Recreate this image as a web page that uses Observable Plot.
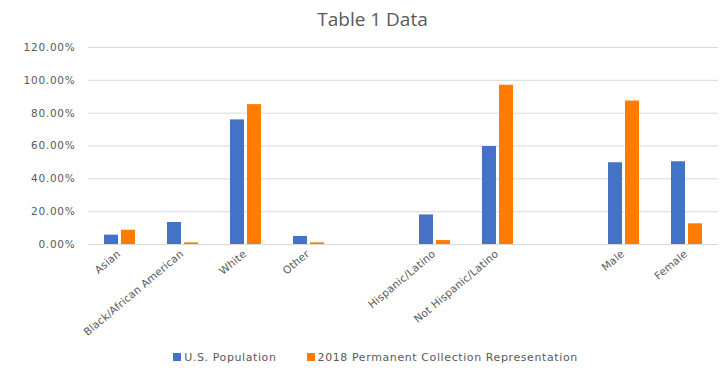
<!DOCTYPE html>
<html>
<head>
<meta charset="utf-8">
<script src="https://cdn.jsdelivr.net/npm/d3@7"></script>
<script src="https://cdn.jsdelivr.net/npm/@observablehq/plot@0.6"></script>
<style>
  body { margin: 0; background: #fff; font-family: "DejaVu Sans", sans-serif; color: #595959; }
  #title { height: 36px; line-height: 38px; text-align: center; padding-left: 24px; font-family: "Open Sans", sans-serif; font-size: 19px; }
  #legend { height: 30px; display: flex; justify-content: center; align-items: center; font-size: 11px; letter-spacing: 0.6px; gap: 30px; padding-left: 30px; }
  #legend span.sw { display: inline-block; width: 8px; height: 8px; margin-right: 3px; vertical-align: middle; position: relative; top: -1px; }
  svg { display: block; }
  svg g[aria-label="y-axis tick label"] text { letter-spacing: 0.75px; }
  svg g[aria-label="fx-axis tick label"] text { letter-spacing: 0.2px; }
</style>
</head>
<body>
<div id="title">Table 1 Data</div>
<div id="chart"></div>
<div id="legend"></div>
<script>
const categories = ["Asian", "Black/African American", "White", "Other", " ", "Hispanic/Latino", "Not Hispanic/Latino", "  ", "Male", "Female"];
const usPopulation = [0.057, 0.134, 0.759, 0.049, null, 0.180, 0.597, null, 0.498, 0.504];
const collection = [0.087, 0.010, 0.852, 0.010, null, 0.024, 0.970, null, 0.874, 0.126];
const series = ["U.S. Population", "2018 Permanent Collection Representation"];
const colors = ["#4472C4", "#FF7C00"];
const yTicks = [0, 0.2, 0.4, 0.6, 0.8, 1.0, 1.2];

const rows = [];
categories.forEach((c, i) => {
  rows.push({category: c, series: series[0], value: usPopulation[i]});
  rows.push({category: c, series: series[1], value: collection[i]});
});

const chart = Plot.plot({
  width: 721,
  height: 306,
  marginLeft: 85,
  marginRight: 1,
  marginTop: 11,
  marginBottom: 98,
  style: {color: "#595959", fontFamily: "DejaVu Sans, sans-serif", fontSize: "10.5px", background: "white"},
  fx: {domain: categories, padding: 0, label: null},
  x: {domain: series, paddingInner: 1/6, paddingOuter: 0.85, axis: null},
  y: {domain: [0, 1.2], label: null},
  color: {domain: series, range: colors},
  marks: [
    Plot.gridY(yTicks, {stroke: "#d9d9d9", strokeOpacity: 1, strokeWidth: 1}),
    Plot.barY(rows, {fx: "category", x: "series", y: "value", fill: "series"}),
    Plot.axisY(yTicks, {tickSize: 0, tickPadding: 13, fontSize: 10.5, tickFormat: d => (d * 100).toFixed(2) + "%", label: null}),
    Plot.axisFx({anchor: "bottom", tickRotate: -40, tickSize: 0, tickPadding: 8, dx: -1, fontSize: 10.5, label: null})
  ]
});
document.getElementById("chart").appendChild(chart);

const legend = document.getElementById("legend");
series.forEach((s, i) => {
  const item = document.createElement("div");
  item.innerHTML = `<span class="sw" style="background:${colors[i]}"></span>${s}`;
  legend.appendChild(item);
});
</script>
</body>
</html>
